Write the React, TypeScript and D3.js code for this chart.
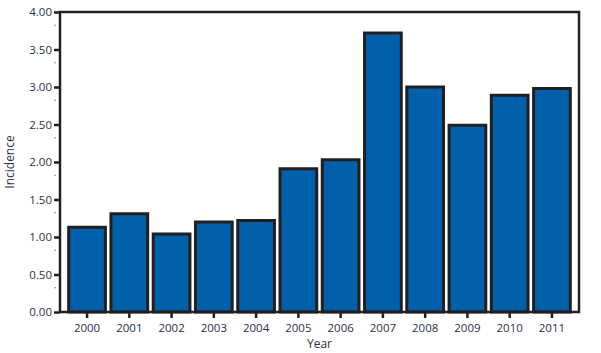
import * as d3 from "d3";
import { useEffect, useRef } from "react";

const years = ["2000", "2001", "2002", "2003", "2004", "2005", "2006", "2007", "2008", "2009", "2010", "2011"];
const incidence = [1.15, 1.33, 1.06, 1.22, 1.24, 1.93, 2.05, 3.74, 3.02, 2.51, 2.91, 3.0];
const yTicks = [0, 0.5, 1, 1.5, 2, 2.5, 3, 3.5, 4];

function IncidenceChart() {
  const ref = useRef<SVGSVGElement>(null);

  useEffect(() => {
    const width = 601;
    const height = 353;
    const margin = { top: 12, right: 22, bottom: 41, left: 60 };
    const innerWidth = width - margin.left - margin.right;
    const innerHeight = height - margin.top - margin.bottom;
    const ink = "#231f20";
    const font = "'Open Sans', 'Liberation Sans', sans-serif";

    const svg = d3.select(ref.current);
    svg.selectAll("*").remove();
    svg.attr("width", width).attr("height", height);

    const x = d3.scaleBand().domain(years).range([0, innerWidth]).paddingInner(0.06).paddingOuter(0.17);
    const y = d3.scaleLinear().domain([0, 4]).range([innerHeight, 0]);

    const g = svg.append("g").attr("transform", `translate(${margin.left},${margin.top})`);

    // bars
    g.selectAll("rect.bar")
      .data(incidence)
      .enter()
      .append("rect")
      .attr("class", "bar")
      .attr("x", (d, i) => x(years[i])! + 1.5)
      .attr("y", (d) => y(d) + 1.5)
      .attr("width", x.bandwidth() - 3)
      .attr("height", (d) => innerHeight - y(d) - 1.5)
      .attr("fill", "#0061aa")
      .attr("stroke", ink)
      .attr("stroke-width", 3);

    // frame
    g.append("rect")
      .attr("x", 0)
      .attr("y", 0)
      .attr("width", innerWidth)
      .attr("height", innerHeight)
      .attr("fill", "none")
      .attr("stroke", ink)
      .attr("stroke-width", 2.5);

    // y axis
    const yAxis = d3.axisLeft(y).tickValues(yTicks).tickFormat(d3.format(".2f")).tickSize(6).tickSizeOuter(0);
    const yAxisG = g.append("g").call(yAxis);
    yAxisG.select(".domain").remove();
    yAxisG.selectAll(".tick line").attr("stroke", ink).attr("stroke-width", 2.5);
    yAxisG
      .selectAll(".tick text")
      .attr("x", -8)
      .attr("fill", "#2b2f45")
      .style("font-family", font)
      .style("font-size", "11.5px");

    // tiny minor dots
    g.selectAll("rect.minor")
      .data(yTicks.slice(0, -1))
      .enter()
      .append("rect")
      .attr("class", "minor")
      .attr("x", -5.5)
      .attr("y", (d) => y(d + 0.25) - 6)
      .attr("width", 1)
      .attr("height", 1)
      .attr("fill", ink);

    // x axis
    const xAxis = d3.axisBottom(x).tickSize(6).tickSizeOuter(0);
    const xAxisG = g.append("g").attr("transform", `translate(0,${innerHeight})`).call(xAxis);
    xAxisG.select(".domain").remove();
    xAxisG.selectAll(".tick line").attr("stroke", ink).attr("stroke-width", 2.5);
    xAxisG
      .selectAll(".tick text")
      .attr("y", 12)
      .attr("fill", "#2b2f45")
      .style("font-family", font)
      .style("font-size", "11.5px");

    // axis titles
    svg
      .append("text")
      .text("Year")
      .attr("x", margin.left + innerWidth / 2)
      .attr("y", 348)
      .attr("text-anchor", "middle")
      .attr("fill", "#2b2f45")
      .style("font-family", font)
      .style("font-size", "12px");

    svg
      .append("text")
      .text("Incidence")
      .attr("transform", `translate(14,${margin.top + innerHeight / 2}) rotate(-90)`)
      .attr("text-anchor", "middle")
      .attr("fill", "#2b2f45")
      .style("font-family", font)
      .style("font-size", "12px");
  }, []);

  return <svg ref={ref} style={{ position: "absolute", left: 0, top: 0, background: "#fff" }}></svg>;
}

export default function App() {
  return <IncidenceChart />;
}
